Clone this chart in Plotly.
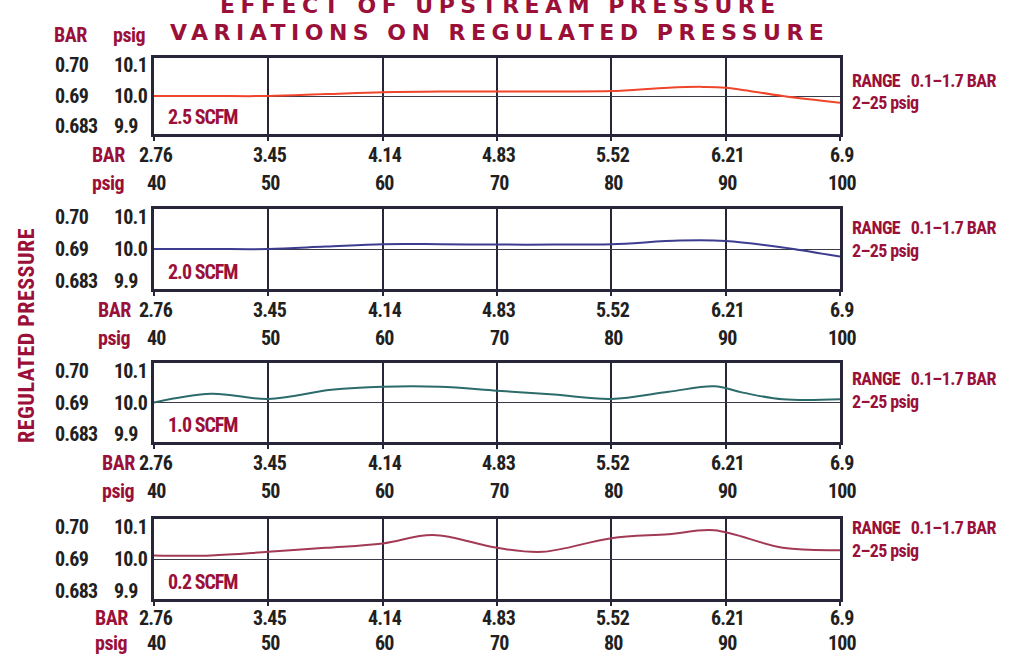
import plotly.graph_objects as go

# ---------------- data ----------------
psig_ticks = [40, 50, 60, 70, 80, 90, 100]
bar_ticks = ["2.76", "3.45", "4.14", "4.83", "5.52", "6.21", "6.9"]
reg_psig_vals = [10.1, 10.0, 9.9]
reg_psig_labels = ["10.1", "10.0", "9.9"]
reg_bar_labels = ["0.70", "0.69", "0.683"]

flow_labels = ["2.5 SCFM", "2.0 SCFM", "1.0 SCFM", "0.2 SCFM"]

x_25 = [40, 45, 50, 55, 60, 65, 70, 75, 80, 85, 88, 90, 95, 100]
y_25 = [10.0, 10.0, 10.0, 10.005, 10.01, 10.012, 10.012, 10.012, 10.013, 10.022, 10.024, 10.022, 10.0, 9.982]

x_20 = [40, 45, 50, 55, 60, 65, 70, 75, 80, 86, 90, 95, 100]
y_20 = [10.0, 10.0, 10.0, 10.006, 10.012, 10.012, 10.011, 10.011, 10.012, 10.021, 10.02, 10.004, 9.981]

x_10 = [40, 45, 50, 55.5, 60, 65, 70, 75, 80, 85, 89, 91.5, 95, 100]
y_10 = [10.0, 10.022, 10.009, 10.032, 10.04, 10.04, 10.03, 10.02, 10.009, 10.027, 10.041, 10.025, 10.008, 10.008]

x_02 = [40, 45, 50, 55, 60, 64.4, 70, 74, 80, 85, 89, 95, 100]
y_02 = [10.009, 10.009, 10.018, 10.028, 10.039, 10.06, 10.028, 10.018, 10.052, 10.062, 10.072, 10.028, 10.022]

series_x = [x_25, x_20, x_10, x_02]
series_y = [y_25, y_20, y_10, y_02]

title_line1 = "EFFECT OF UPSTREAM PRESSURE"
title_line2 = "VARIATIONS ON REGULATED PRESSURE"
range_line1 = "RANGE\u00a0\u00a0 0.1\u20131.7 BAR"
range_line2 = "2\u201325 psig"

# ---------------- styles / geometry ----------------
W, H = 1013, 656
RED = "#9b1039"
DARK = "#231f20"
FRAME = "#262638"
line_colors = ["#f0452a", "#3d3d8f", "#2b6b6b", "#a33a55"]
NARROW = "Roboto Condensed, Liberation Sans Narrow, DejaVu Sans Condensed, sans-serif"

tops = [58, 209, 363, 519]
bottoms = [134, 289, 442, 599]
x_left, x_right = 154, 840
range_text_y = [80, 228, 378, 527]
xrow_label_x = [127, 133, 137, 130]
bar_row_shift = [-21, -21, -21, -19]
psig_row_shift = [-49, -49, -49, -44]


def py(px):
    return 1 - px / H


def pxx(px):
    return px / W


def nfont(size, color):
    return dict(family=NARROW, size=size, color=color, weight="bold")


def tight(text, ls):
    return "<span style='letter-spacing:%spx'>%s</span>" % (ls, text)


fig = go.Figure()
annotations = []

for i in range(4):
    n = "" if i == 0 else str(i + 1)
    xa, ya = "x" + n, "y" + n
    fig.add_trace(go.Scatter(
        x=series_x[i], y=series_y[i], xaxis=xa, yaxis=ya,
        mode="lines", line=dict(color=line_colors[i], width=2, shape="spline", smoothing=1.0),
        showlegend=False, hoverinfo="skip"))

    fig.layout["xaxis" + n] = dict(
        domain=[pxx(x_left), pxx(x_right)], anchor=ya, range=[40, 100],
        tickvals=psig_ticks, showticklabels=False, showgrid=True,
        gridcolor=FRAME, gridwidth=2, showline=True, linecolor=FRAME, linewidth=3,
        mirror=True, ticks="outside", ticklen=4, tickcolor=FRAME, tickwidth=2,
        zeroline=False, fixedrange=True)
    fig.layout["yaxis" + n] = dict(
        domain=[py(bottoms[i]), py(tops[i])], anchor=xa, range=[9.9, 10.1],
        tickvals=reg_psig_vals, showticklabels=False, showgrid=True,
        gridcolor="#3a3a48", gridwidth=1.3, showline=True, linecolor=FRAME,
        linewidth=3, mirror=True, zeroline=False, fixedrange=True)

    shifts = [-7.5, 0, 8]
    for v, lp, lb, s in zip(reg_psig_vals, reg_psig_labels, reg_bar_labels, shifts):
        annotations.append(dict(x=pxx(112), xref="paper", y=v, yref=ya, yshift=s,
                                text=tight(lp, -0.8), showarrow=False, xanchor="left", yanchor="middle",
                                font=nfont(20, DARK)))
        annotations.append(dict(x=pxx(53), xref="paper", y=v, yref=ya, yshift=s,
                                text=tight(lb, -0.8), showarrow=False, xanchor="left", yanchor="middle",
                                font=nfont(20, DARK)))

    for v, lb in zip(psig_ticks, bar_ticks):
        annotations.append(dict(x=v, xref=xa, xshift=2, y=0, yref=ya + " domain", yshift=bar_row_shift[i],
                                text=tight(lb, -0.8), showarrow=False, xanchor="center", yanchor="middle",
                                font=nfont(20, DARK)))
        annotations.append(dict(x=v, xref=xa, xshift=2, y=0, yref=ya + " domain", yshift=psig_row_shift[i],
                                text=tight(str(v), -0.8), showarrow=False, xanchor="center", yanchor="middle",
                                font=nfont(20, DARK)))
    annotations.append(dict(x=pxx(xrow_label_x[i]), xref="paper", y=0, yref=ya + " domain",
                            yshift=bar_row_shift[i],
                            text=tight("BAR", -0.5), showarrow=False, xanchor="right", yanchor="middle",
                            font=nfont(20, RED)))
    annotations.append(dict(x=pxx(xrow_label_x[i]), xref="paper", y=0, yref=ya + " domain",
                            yshift=psig_row_shift[i],
                            text=tight("psig", -0.5), showarrow=False, xanchor="right", yanchor="middle",
                            font=nfont(20, RED)))

    annotations.append(dict(x=pxx(166), xref="paper", y=0, yref=ya + " domain", yshift=17,
                            text=tight(flow_labels[i], -1), showarrow=False, xanchor="left", yanchor="middle",
                            font=nfont(20, RED)))
    annotations.append(dict(x=pxx(850), xref="paper", y=py(range_text_y[i]), yref="paper",
                            text=tight(range_line1, -0.6), showarrow=False, xanchor="left", yanchor="middle",
                            font=nfont(18, RED)))
    annotations.append(dict(x=pxx(850), xref="paper", y=py(range_text_y[i] + 23), yref="paper",
                            text=tight(range_line2, -0.6), showarrow=False, xanchor="left", yanchor="middle",
                            font=nfont(18, RED)))

annotations.append(dict(x=pxx(52), xref="paper", y=py(35), yref="paper", text=tight("BAR", -0.5),
                        showarrow=False, xanchor="left", yanchor="middle", font=nfont(20, RED)))
annotations.append(dict(x=pxx(111), xref="paper", y=py(35), yref="paper", text=tight("psig", -0.5),
                        showarrow=False, xanchor="left", yanchor="middle", font=nfont(20, RED)))

annotations.append(dict(x=pxx(500), xref="paper", y=py(5.5), yref="paper",
                        text=tight(title_line1, 5.5),
                        showarrow=False, xanchor="center", yanchor="middle",
                        font=dict(family="DejaVu Sans", size=22, color=RED, weight="bold")))
annotations.append(dict(x=pxx(499), xref="paper", y=py(32.5), yref="paper",
                        text=tight(title_line2, 5.5),
                        showarrow=False, xanchor="center", yanchor="middle",
                        font=dict(family="DejaVu Sans", size=22, color=RED, weight="bold")))

annotations.append(dict(x=pxx(26), xref="paper", y=py(336), yref="paper",
                        text=tight("REGULATED PRESSURE", 0.5),
                        textangle=-90, showarrow=False, xanchor="center", yanchor="middle",
                        font=nfont(22, RED)))

fig.update_layout(
    width=W, height=H, margin=dict(l=0, r=0, t=0, b=0),
    paper_bgcolor="white", plot_bgcolor="white",
    annotations=annotations, showlegend=False)

fig.write_html("out.html", config={"displayModeBar": False},
               post_script="document.body.style.margin='0';document.body.style.overflow='hidden';")
